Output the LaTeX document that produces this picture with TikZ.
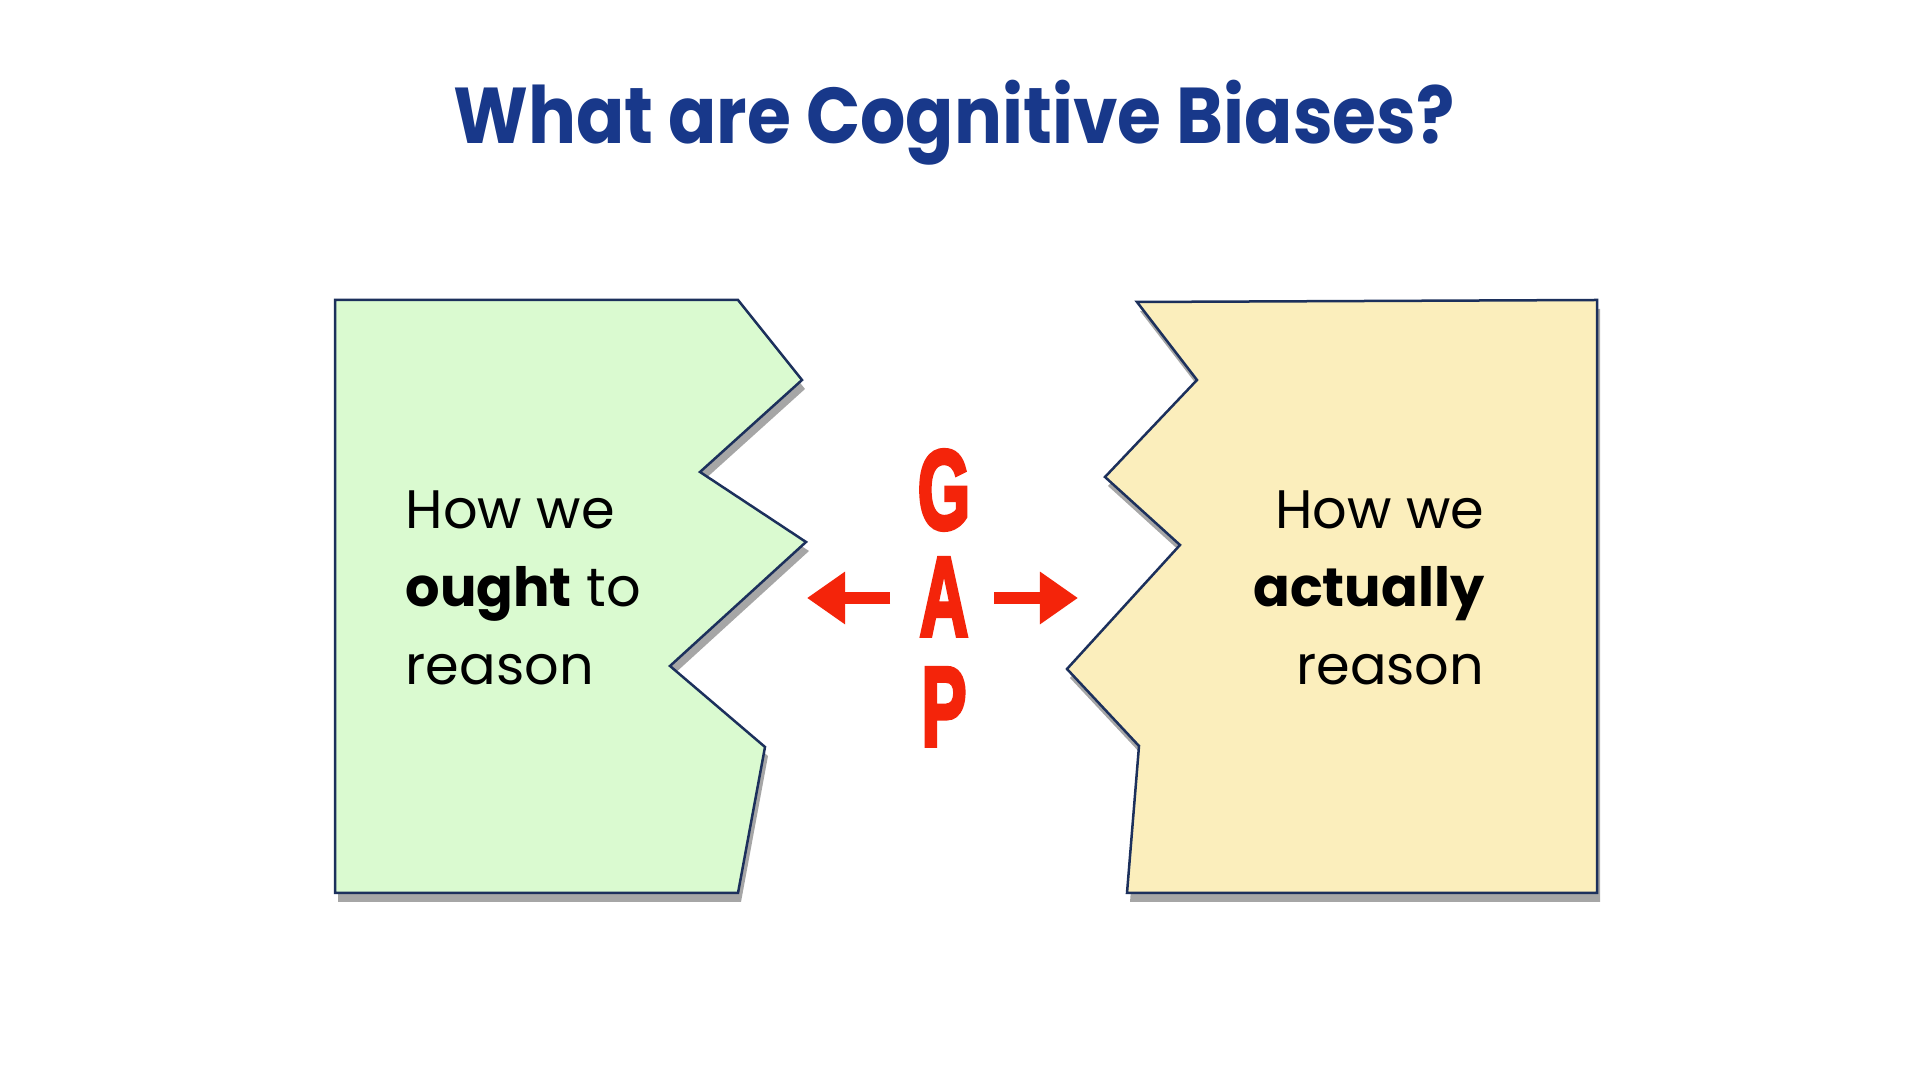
\documentclass[tikz,border=0pt]{standalone}
\usepackage{fontspec}
\setmainfont{Poppins}
\newfontfamily\gapfont[FakeBold=4]{Liberation Sans Bold}
\usetikzlibrary{shadows,positioning,arrows.meta}
\definecolor{titleblue}{RGB}{24,56,138}
\definecolor{edgenavy}{RGB}{28,48,92}
\definecolor{oughtgreen}{RGB}{218,250,208}
\definecolor{actualsand}{RGB}{251,238,188}
\definecolor{gapred}{RGB}{244,36,10}
\newcommand{\narrowletter}[1]{\scalebox{0.6}[1]{#1}}

\begin{document}
\begin{tikzpicture}[x=0.01cm,y=-0.01cm,
  piece/.style={draw=edgenavy,line width=0.025cm,line join=miter,
    drop shadow={shadow xshift=0.03cm,shadow yshift=-0.09cm,opacity=0.35,fill=black}},
  reasontext/.style={inner sep=0pt,font=\fontsize{15.4}{22.2}\selectfont},
  gapletter/.style={inner sep=0pt,text=gapred,font=\gapfont\fontsize{32}{32}\selectfont},
  gaparrow/.style={draw=gapred,line width=0.12cm,-{Triangle[length=0.38cm,width=0.5cm]}}]

        \useasboundingbox[fill=white] (0,0) rectangle (1920,1080);

        \node (title) [anchor=base,inner sep=0pt,text=titleblue,
          font=\bfseries\fontsize{22.5}{28}\selectfont] at (954,144)
          {\scalebox{0.9}[1]{What are Cognitive Biases?}};

        % the two torn pieces
        \path[piece,fill=oughtgreen] (335,300) -- (738,300) -- (802,380) -- (700,472)
          -- (806,542) -- (670,666) -- (765,747) -- (738,893) -- (335,893) -- cycle;
        \path[piece,fill=actualsand] (1137,302) -- (1597,300) -- (1597,893) -- (1127,893)
          -- (1139,746) -- (1067,669) -- (1180,545) -- (1105,477) -- (1197,380) -- cycle;

        \node (ought) [reasontext,anchor=north west,align=left] at (405,490)
          {How we\\\textbf{ought} to\\reason};
        \node (actual) [reasontext,anchor=north east,align=right] at (1485,490)
          {How we\\\textbf{actually}\\reason};

        % the gap
        \node (gapG) [gapletter] at (944,490) {\narrowletter{G}};
        \node (gapA) [gapletter,below=0.27cm of gapG] {\narrowletter{A}};
        \node (gapP) [gapletter,below=0.31cm of gapA] {\narrowletter{P}};

        \coordinate (ltail) at (890,598);
        \coordinate (ltip) at (807,598);
        \coordinate (rtail) at (994,598);
        \coordinate (rtip) at (1078,598);
        \draw[gaparrow] (ltail) -- (ltip);
        \draw[gaparrow] (rtail) -- (rtip);
\end{tikzpicture}
\end{document}
